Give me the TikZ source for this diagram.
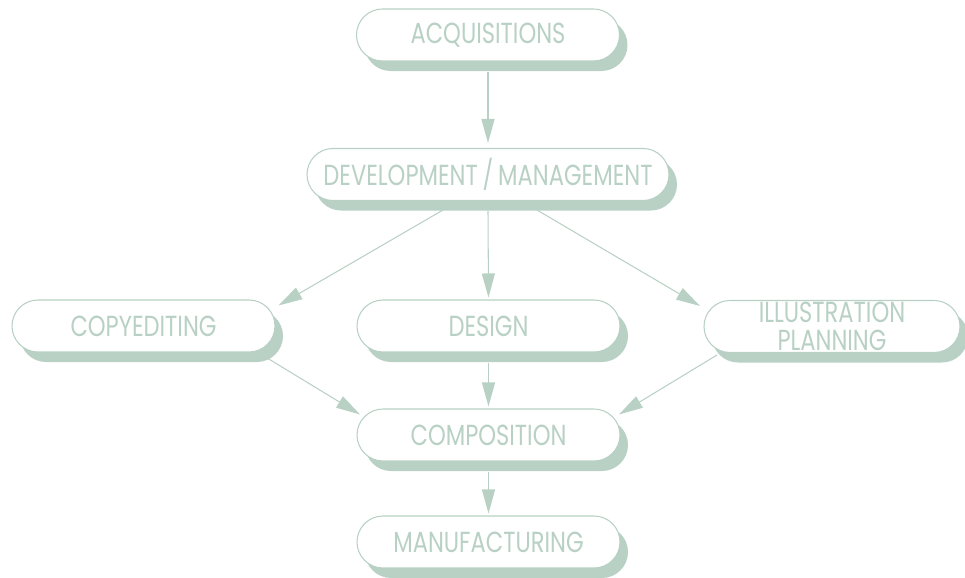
\documentclass[tikz,border=0pt]{standalone}
\usepackage{fontspec}
\setmainfont{Poppins}[FakeStretch=0.78]
\usepackage{xcolor}
\usetikzlibrary{arrows.meta}
\usetikzlibrary{shapes.misc, shadows}
\definecolor{sage}{RGB}{184,209,196}
\tikzset{
  stage/.style={rounded rectangle, draw=sage, line width=0.6pt, fill=white, text=sage,
    minimum width=52.6mm, minimum height=10.4mm, inner sep=0pt, align=center,
    font=\fontsize{16.5}{16}\selectfont,
    drop shadow={shadow xshift=1.6mm, shadow yshift=-2mm, fill=sage, opacity=1}},
  flow/.style={draw=sage, line width=0.6pt, -{Triangle[length=4.8mm, width=2.6mm]}},
}

\begin{document}
\begin{tikzpicture}[x=0.2mm, y=-0.2mm]
    \useasboundingbox (0,0) rectangle (965,578);
    \node[stage] (acq) at (488,35) {ACQUISITIONS};
    \node[stage, minimum width=72.4mm] (dev) at (488,174.5) {DEVELOPMENT\,/\,MANAGEMENT};
    \node[stage] (copy) at (143.5,326) {COPYEDITING};
    \node[stage] (design) at (488.5,326) {DESIGN};
    \node[stage, minimum width=51.2mm] (illus) at (832,326.5) {ILLUSTRATION\\PLANNING};
    \node[stage] (comp) at (488.5,435) {COMPOSITION};
    \node[stage] (manuf) at (488.5,542) {MANUFACTURING};
    \draw[flow] ([yshift=-2mm]acq.south) -- ([yshift=1mm]dev.north);
    \draw[flow] ([xshift=-9mm,yshift=-1.8mm]dev.south) -- ([xshift=27mm,yshift=-1.2mm]copy.north);
    \draw[flow] ([yshift=-2mm]dev.south) -- ([yshift=0.4mm]design.north);
    \draw[flow] ([xshift=9.8mm,yshift=-1.8mm]dev.south) -- ([xshift=-26.4mm,yshift=-1.2mm]illus.north);
    \draw[flow] ([xshift=24.9mm,yshift=-1.2mm]copy.south) -- ([xshift=-25.7mm,yshift=-1.2mm]comp.north);
    \draw[flow] ([yshift=-2mm]design.south) -- ([yshift=0.4mm]comp.north);
    \draw[flow] ([xshift=-23mm,yshift=-0.4mm]illus.south) -- ([xshift=26.1mm,yshift=-1.2mm]comp.north);
    \draw[flow] ([yshift=-2mm]comp.south) -- ([yshift=0.4mm]manuf.north);
\end{tikzpicture}
\end{document}
